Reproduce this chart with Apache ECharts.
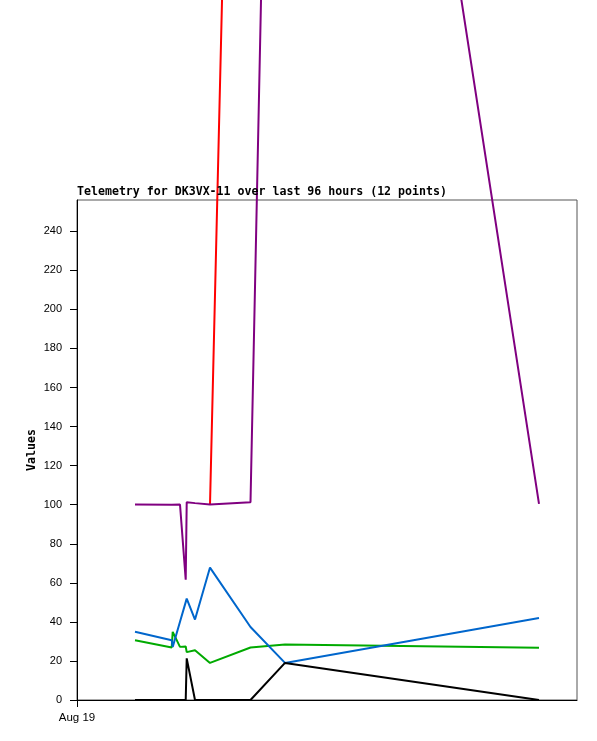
<!DOCTYPE html>
<html>
<head>
<meta charset="utf-8">
<script src="https://cdn.jsdelivr.net/npm/echarts@6/dist/echarts.min.js"></script>
<style>
html,body{margin:0;padding:0;background:#fff;}
#c{width:597px;height:741px;}
</style>
</head>
<body>
<div id="c"></div>
<script>
// hours after Aug 19 00:00
var hours = [2.784, 4.546, 4.594, 4.944, 5.218, 5.266, 5.664, 6.384, 8.328, 9.984, 22.176];
var redVals = [null, null, null, null, null, null, null, 100.1, 970, 985, 1000];
var greenVals = [30.6, 26.9, 34.9, 27.2, 27.4, 24.5, 25.5, 19.0, 26.9, 28.4, 26.7];
var blueVals = [34.9, 30.6, 27.2, 40.1, 50.1, 51.9, 41.2, 67.8, 37.4, 19.0, 42.0];
var blackVals = [0, 0, 0, 0, 0, 21.3, 0, 0, 0, 19.0, 0];
var purpleVals = [100.1, 100, 100, 100.1, 61.6, 101.3, 100.8, 100.1, 101.3, 945, 100.4];
var yTicks = [0, 20, 40, 60, 80, 100, 120, 140, 160, 180, 200, 220, 240];
var xTickLabels = ['Aug 19'];

function pairs(vals) {
  return hours.map(function (h, i) { return [h, vals[i]]; });
}
function mk(vals, color) {
  return {
    type: 'line', data: pairs(vals), showSymbol: false, symbol: 'none',
    clip: false, connectNulls: false,
    lineStyle: { color: color, width: 2 }, itemStyle: { color: color }
  };
}

var chart = echarts.init(document.getElementById('c'));
chart.setOption({
  animation: false,
  backgroundColor: '#fff',
  title: {
    text: 'Telemetry for DK3VX-11 over last 96 hours (12 points)',
    left: 77, top: 186, padding: 0,
    textStyle: { fontFamily: 'DejaVu Sans Mono', fontWeight: 'bold', fontSize: 11.6, color: '#000' }
  },
  grid: { left: 77, top: 200, width: 500, height: 500, show: true, borderColor: '#555', borderWidth: 1, backgroundColor: 'transparent' },
  xAxis: {
    type: 'value', min: 0, max: 24, interval: 24,
    axisLine: { show: true, lineStyle: { color: '#000', width: 1 } },
    axisTick: { show: true, length: 7, customValues: [0], lineStyle: { color: '#000' } },
    axisLabel: { show: true, customValues: [0], margin: 12, color: '#000', fontFamily: 'Liberation Sans', fontSize: 11.5,
      formatter: function () { return xTickLabels[0]; } },
    splitLine: { show: false }
  },
  yAxis: {
    type: 'value', min: 0, max: 256, interval: 20,
    name: 'Values', nameLocation: 'middle', nameGap: 39, nameRotate: 90, nameMoveOverlap: false,
    nameTextStyle: { fontFamily: 'DejaVu Sans Mono', fontWeight: 'bold', fontSize: 11.6, color: '#000' },
    axisLine: { show: true, lineStyle: { color: '#000', width: 1 } },
    axisTick: { show: true, length: 7, customValues: yTicks, lineStyle: { color: '#000' } },
    axisLabel: { show: true, customValues: yTicks, margin: 15, color: '#000', fontFamily: 'Liberation Sans', fontSize: 11 },
    splitLine: { show: false }
  },
  series: [
    mk(redVals, '#ff0000'),
    mk(greenVals, '#00aa00'),
    mk(blueVals, '#0066cc'),
    mk(blackVals, '#000000'),
    mk(purpleVals, '#800080')
  ]
});
</script>
</body>
</html>
